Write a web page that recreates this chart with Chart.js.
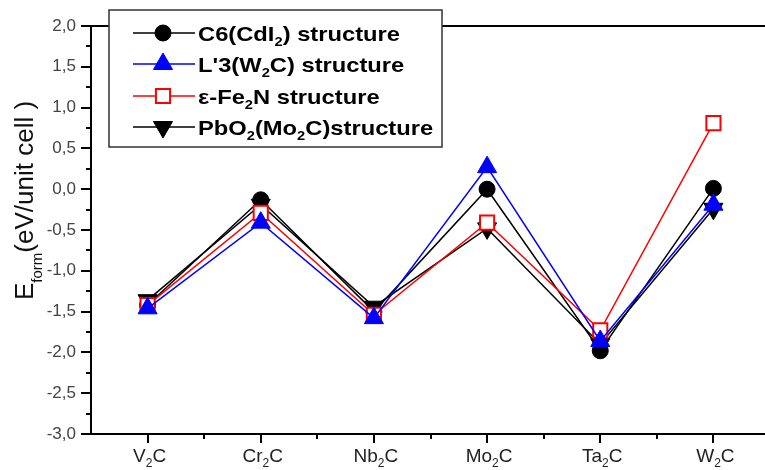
<!DOCTYPE html>
<html>
<head>
<meta charset="utf-8">
<script src="https://cdn.jsdelivr.net/npm/chart.js@4/dist/chart.umd.min.js"></script>
<style>
  html, body { margin: 0; padding: 0; overflow: hidden; background: #fff; width: 765px; height: 470px; }
  #chart { display: block; }
</style>
</head>
<body>
<canvas id="chart" width="782" height="470" style="width:782px;height:470px"></canvas>
<script>
// Carbides on the x axis ("_x" marks a subscript character)
const categories = ['V_2C', 'Cr_2C', 'Nb_2C', 'Mo_2C', 'Ta_2C', 'W_2C'];

// Formation energies, eV per unit cell
const c6Values   = [-1.42, -0.13, -1.50,  0.00, -1.98,  0.01];
const l3Values   = [-1.46, -0.41, -1.58,  0.27, -1.86, -0.19];
const fe2nValues = [-1.42, -0.29, -1.54, -0.41, -1.73,  0.81];
const pbo2Values = [-1.36, -0.19, -1.44, -0.48, -1.90, -0.24];

const seriesNames = ['C6(CdI_2) structure', "L'3(W_2C) structure", '\u03B5-Fe_2N structure', 'PbO_2(Mo_2C)structure'];

const yMin = -3.0, yMax = 2.0, yStep = 0.5;

const FONT = "'Liberation Sans', Arial, Helvetica, sans-serif";

function tokens(s) {
  const out = [];
  let buf = '';
  for (let i = 0; i < s.length; i++) {
    if (s[i] === '_') {
      if (buf) out.push({ t: buf, sub: false });
      buf = '';
      out.push({ t: s[i + 1], sub: true });
      i++;
    } else buf += s[i];
  }
  if (buf) out.push({ t: buf, sub: false });
  return out;
}

function richWidth(ctx, s, size, weight) {
  let w = 0;
  for (const tk of tokens(s)) {
    ctx.font = `${weight} ${tk.sub ? Math.round(size * 0.62) : size}px ${FONT}`;
    w += ctx.measureText(tk.t).width;
  }
  return w;
}

function drawRich(ctx, s, x, y, size, weight, color, align, sx) {
  sx = sx || 1;
  const w = richWidth(ctx, s, size, weight) * sx;
  let cx = align === 'center' ? x - w / 2 : x;
  ctx.save();
  ctx.fillStyle = color;
  ctx.textBaseline = 'alphabetic';
  ctx.textAlign = 'left';
  ctx.translate(cx, y);
  ctx.scale(sx, 1);
  let px = 0;
  for (const tk of tokens(s)) {
    const fs = tk.sub ? Math.round(size * 0.62) : size;
    ctx.font = `${weight} ${fs}px ${FONT}`;
    ctx.fillText(tk.t, px, tk.sub ? size * 0.28 : 0);
    px += ctx.measureText(tk.t).width;
  }
  ctx.restore();
}

const seriesStyles = [
  { color: '#000000', pointStyle: 'circle',   radius: 8,  fill: '#000000', bw: 1, rot: 0 },
  { color: '#0000ff', pointStyle: 'triangle', radius: 11, fill: '#0000ff', bw: 1, rot: 0 },
  { color: '#ff0000', pointStyle: 'rect',     radius: 10, fill: '#ffffff', bw: 2, rot: 0 },
  { color: '#000000', pointStyle: 'triangle', radius: 11, fill: '#000000', bw: 1, rot: 180 }
];
const seriesData = [c6Values, l3Values, fe2nValues, pbo2Values];
const drawOrder = [2, 0, 1, 3];

// Axes frame, tick marks, category labels and y-axis title
const framePlugin = {
  id: 'frame',
  beforeDatasetsDraw(chart) {
    const ctx = chart.ctx;
    const { left, right, top, bottom } = chart.chartArea;
    const xs = chart.scales.x, ys = chart.scales.y;
    ctx.save();
    ctx.strokeStyle = '#000';
    ctx.lineWidth = 2;
    ctx.beginPath();
    ctx.moveTo(left, top); ctx.lineTo(chart.width, top);
    ctx.moveTo(left, top - 1); ctx.lineTo(left, bottom + 1);
    ctx.moveTo(left - 1, bottom); ctx.lineTo(chart.width, bottom);
    ctx.stroke();

    // y ticks: major every 0.5, minor in between
    ctx.lineWidth = 2;
    ctx.beginPath();
    for (let v = yMin; v <= yMax + 1e-9; v += yStep / 2) {
      const y = Math.round(ys.getPixelForValue(v));
      const major = Math.abs(Math.round(v / yStep) * yStep - v) < 1e-6;
      ctx.moveTo(left - (major ? 10 : 5), y);
      ctx.lineTo(left, y);
    }
    // x ticks: major at categories, minor halfway
    const n = categories.length;
    const half = (xs.getPixelForValue(1) - xs.getPixelForValue(0)) / 2;
    for (let i = 0; i < n; i++) {
      const x = Math.round(xs.getPixelForValue(i));
      ctx.moveTo(x, bottom); ctx.lineTo(x, bottom + 9);
      const xm = Math.round(xs.getPixelForValue(i) + half);
      ctx.moveTo(xm, bottom); ctx.lineTo(xm, bottom + 5);
    }
    ctx.stroke();

    // category labels
    for (let i = 0; i < n; i++) {
      drawRich(ctx, categories[i], xs.getPixelForValue(i) + 2, bottom + 28, 19, 'normal', '#222', 'center');
    }

    // y-axis title E_form (eV/unit cell )
    ctx.translate(33, 300);
    ctx.rotate(-Math.PI / 2);
    ctx.fillStyle = '#111';
    ctx.textBaseline = 'alphabetic';
    ctx.textAlign = 'left';
    ctx.font = `26px ${FONT}`;
    ctx.fillText('E', 0, 0);
    let px = ctx.measureText('E').width;
    ctx.font = `15px ${FONT}`;
    ctx.fillText('form', px, 9);
    px += ctx.measureText('form').width;
    ctx.font = `26px ${FONT}`;
    ctx.fillText('(eV/unit cell )', px, 0);
    ctx.restore();
  },
  afterDraw(chart) {
    const ctx = chart.ctx;
    // legend box
    const bx = 109, by = 10, bw = 333, bh = 137;
    ctx.save();
    ctx.fillStyle = '#fff';
    ctx.fillRect(bx, by, bw, bh);
    ctx.strokeStyle = '#333';
    ctx.lineWidth = 1.5;
    ctx.strokeRect(bx, by, bw, bh);
    const rows = [33, 64, 96, 127];
    for (let k = 0; k < 4; k++) {
      const st = seriesStyles[k];
      const ry = rows[k];
      ctx.strokeStyle = st.color;
      ctx.lineWidth = 1.5;
      ctx.beginPath();
      ctx.moveTo(133, ry); ctx.lineTo(195, ry);
      ctx.stroke();
      ctx.fillStyle = st.fill;
      ctx.strokeStyle = st.color;
      ctx.lineWidth = st.bw;
      Chart.helpers.drawPoint(ctx, { pointStyle: st.pointStyle, radius: st.radius, rotation: st.rot, borderWidth: st.bw }, 163, ry);
      drawRich(ctx, seriesNames[k], 198, ry + 7.5, 21, 'bold', '#000', 'left', 1.13);
    }
    ctx.restore();
  }
};

const datasets = seriesData.map((vals, k) => {
  const st = seriesStyles[k];
  return {
    label: seriesNames[k].replace(/_/g, ''),
    data: vals,
    borderColor: st.color,
    borderWidth: 1.5,
    backgroundColor: st.fill,
    pointStyle: st.pointStyle,
    pointRadius: st.radius,
    pointHoverRadius: st.radius,
    pointRotation: st.rot,
    pointBackgroundColor: st.fill,
    pointBorderColor: st.color,
    pointBorderWidth: st.bw,
    tension: 0,
    fill: false,
    order: drawOrder[k]
  };
});

new Chart(document.getElementById('chart'), {
  type: 'line',
  data: { labels: categories.map(c => c.replace(/_/g, '')), datasets },
  options: {
    responsive: false,
    maintainAspectRatio: false,
    devicePixelRatio: 1,
    animation: false,
    layout: { padding: { top: 26, right: 6, left: 0, bottom: 0 } },
    plugins: { legend: { display: false }, tooltip: { enabled: false } },
    scales: {
      x: {
        type: 'category',
        offset: true,
        grid: { display: false, drawTicks: false },
        border: { display: false },
        ticks: { display: false },
        afterFit(scale) { scale.height = 36; }
      },
      y: {
        min: yMin,
        max: yMax,
        grid: { display: false, drawTicks: false },
        border: { display: false },
        ticks: {
          stepSize: yStep,
          padding: 15,
          color: '#444',
          font: { family: FONT, size: 17 },
          callback: v => v.toFixed(1).replace('.', ',')
        },
        afterFit(scale) { scale.width = 91; }
      }
    }
  },
  plugins: [framePlugin]
});
</script>
</body>
</html>
